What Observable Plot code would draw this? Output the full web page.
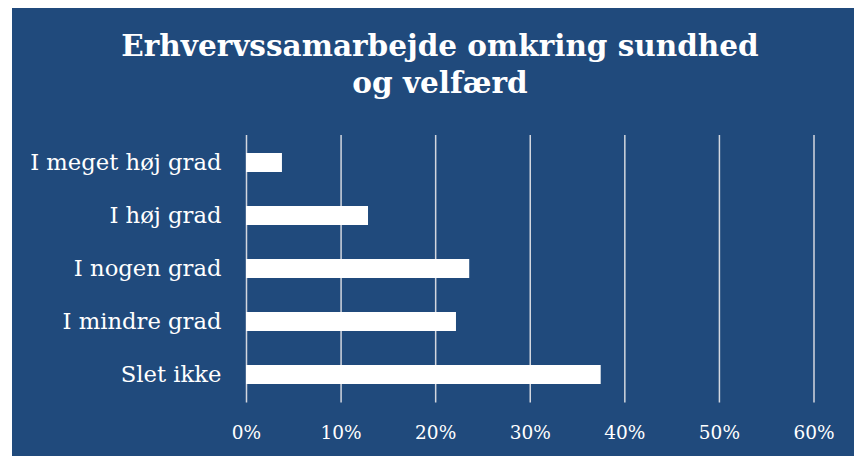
<!DOCTYPE html>
<html>
<head>
<meta charset="utf-8">
<script src="https://cdn.jsdelivr.net/npm/d3@7"></script>
<script src="https://cdn.jsdelivr.net/npm/@observablehq/plot@0.6"></script>
<style>
  html, body { margin: 0; padding: 0; background: #ffffff; }
  #wrap {
    position: absolute; left: 12px; top: 8px; width: 842px; height: 448px;
    background: #204A7C; overflow: hidden;
  }
  #title {
    height: 110px; box-sizing: border-box; padding-top: 19px; padding-left: 14px;
    text-align: center; color: #ffffff;
    font-family: "DejaVu Serif", serif; font-weight: bold;
    font-size: 29.5px; line-height: 37px;
  }
  #chart svg { display: block; }
</style>
</head>
<body>
<div id="wrap">
  <div id="title">Erhvervssamarbejde omkring sundhed<br>og velfærd</div>
  <div id="chart"></div>
</div>
<script>
const categories = ["I meget høj grad", "I høj grad", "I nogen grad", "I mindre grad", "Slet ikke"];
const values = [3.8, 12.9, 23.6, 22.2, 37.5];
const xTicks = [0, 10, 20, 30, 40, 50, 60];

const data = categories.map((c, i) => ({category: c, value: values[i]}));

const chart = Plot.plot({
  width: 842,
  height: 338,
  marginTop: 17,
  marginBottom: 53.5,
  marginLeft: 234,
  marginRight: 40.5,
  style: {
    background: "transparent",
    color: "#ffffff",
    fontFamily: "DejaVu Serif, serif",
    overflow: "visible"
  },
  x: {domain: [0, 60], ticks: xTicks, label: null},
  y: {domain: categories, paddingInner: 0.636, paddingOuter: 0.318, label: null},
  marks: [
    Plot.gridX(xTicks, {stroke: "#D3D7DF", strokeOpacity: 1, strokeWidth: 1.5}),
    Plot.barX(data, {x: "value", y: "category", fill: "#ffffff"}),
    Plot.axisX({ticks: xTicks, tickSize: 0, tickPadding: 23, tickFormat: d => d + "%", fontSize: 18.5, fill: "#ffffff", label: null}),
    Plot.axisY({tickSize: 0, tickPadding: 25, fontSize: 22.7, fill: "#ffffff", label: null})
  ]
});
document.getElementById("chart").appendChild(chart);
</script>
</body>
</html>
